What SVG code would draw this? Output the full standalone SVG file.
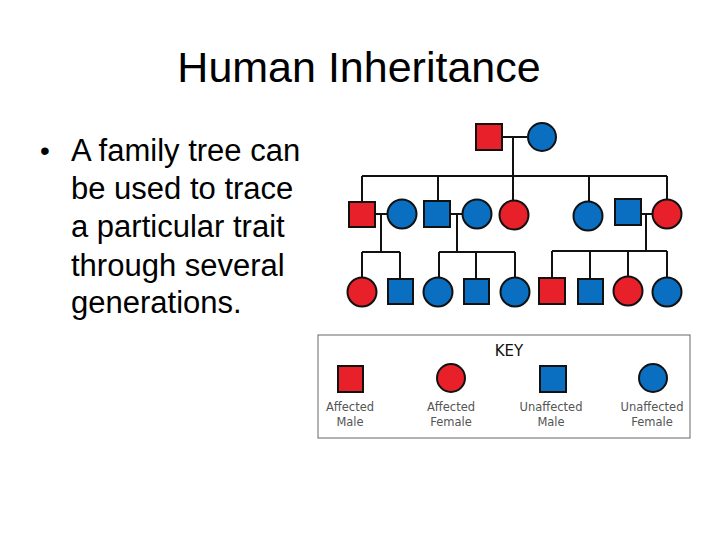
<svg xmlns="http://www.w3.org/2000/svg" width="720" height="540" viewBox="0 0 720 540">
<style>
.t{font-family:"Liberation Sans",Arial,sans-serif;fill:#000}
.a{fill:#e8202a;stroke:#111;stroke-width:2}
.u{fill:#0a6fc0;stroke:#111;stroke-width:2}
.l{stroke:#111;stroke-width:2;fill:none}
.k{font-family:"DejaVu Sans",sans-serif;font-size:11.5px;fill:#555;text-anchor:middle}
</style>
<rect width="720" height="540" fill="#fff"/>
<text class="t" x="359" y="82" font-size="43" text-anchor="middle">Human Inheritance</text>
<g class="t" font-size="31">
<text x="40" y="160" font-size="28">•</text>
<text x="71" y="161">A family tree can</text>
<text x="71" y="199">be used to trace</text>
<text x="71" y="237">a particular trait</text>
<text x="71" y="276">through several</text>
<text x="71" y="313">generations.</text>
</g>
<g id="connectors" class="l">
<path d="M502 137H527M513 137V176M362 176H667M362 176V202M438 176V202M513 176V200M589 176V201M667 176V200"/>
<path d="M375 214H387M381 214V252M362 252H400M362 252V277M400 252V279"/>
<path d="M450 214H462M457 214V252M439 252H515M439 252V277M476 252V279M515 252V277"/>
<path d="M641 214H652M646 214V251M552 251H667M552 251V279M590 251V279M628 251V277M667 251V277"/>
</g>
<g id="g1m"><rect class="a" x="476" y="124" width="26" height="26"/></g>
<g id="g1f"><circle class="u" cx="542" cy="137" r="14"/></g>
<g id="g2a"><rect class="a" x="349" y="202" width="26" height="25"/></g>
<g id="g2b"><circle class="u" cx="402" cy="214" r="14.5"/></g>
<g id="g2c"><rect class="u" x="424" y="201" width="26" height="26"/></g>
<g id="g2d"><circle class="u" cx="477" cy="214" r="14.5"/></g>
<g id="g2e"><circle class="a" cx="514" cy="215" r="14.5"/></g>
<g id="g2f"><circle class="u" cx="588" cy="216" r="14.5"/></g>
<g id="g2g"><rect class="u" x="615" y="199" width="26" height="26"/></g>
<g id="g2h"><circle class="a" cx="667" cy="214" r="14.5"/></g>
<g id="g3a"><circle class="a" cx="362" cy="292" r="14.5"/></g>
<g id="g3b"><rect class="u" x="388" y="279" width="25" height="25"/></g>
<g id="g3c"><circle class="u" cx="438" cy="292" r="14.5"/></g>
<g id="g3d"><rect class="u" x="464" y="279" width="25" height="25"/></g>
<g id="g3e"><circle class="u" cx="515" cy="292" r="14.5"/></g>
<g id="g3f"><rect class="a" x="539" y="278" width="26" height="26"/></g>
<g id="g3g"><rect class="u" x="578" y="279" width="25" height="25"/></g>
<g id="g3h"><circle class="a" cx="628" cy="291" r="14.5"/></g>
<g id="g3i"><circle class="u" cx="667" cy="292" r="14.5"/></g>
<g id="key">
<rect x="318" y="335" width="372" height="103" fill="#fff" stroke="#666" stroke-width="1"/>
<text x="509" y="356" font-family="DejaVu Sans,sans-serif" font-size="15" text-anchor="middle" fill="#111">KEY</text>
<rect class="a" x="338" y="366" width="25" height="26" stroke-width="1.5"/>
<circle class="a" cx="451" cy="378" r="14" stroke-width="1.5"/>
<rect class="u" x="540" y="366" width="26" height="26" stroke-width="1.5"/>
<circle class="u" cx="653" cy="378" r="14" stroke-width="1.5"/>
<text class="k" x="350" y="411">Affected</text><text class="k" x="350" y="426">Male</text>
<text class="k" x="451" y="411">Affected</text><text class="k" x="451" y="426">Female</text>
<text class="k" x="551" y="411">Unaffected</text><text class="k" x="551" y="426">Male</text>
<text class="k" x="652" y="411">Unaffected</text><text class="k" x="652" y="426">Female</text>
</g>
</svg>
